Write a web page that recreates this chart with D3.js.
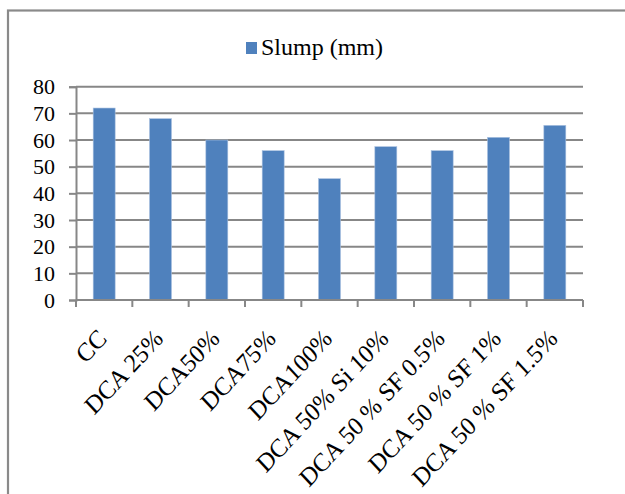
<!DOCTYPE html>
<html>
<head>
<meta charset="utf-8">
<script src="https://cdn.jsdelivr.net/npm/d3@7"></script>
<style>
  html, body { margin: 0; padding: 0; background: #fff; }
  svg { display: block; }
  text { font-family: "Liberation Serif", "Times New Roman", serif; fill: #000; }
</style>
</head>
<body>
<svg id="chart" width="625" height="494"></svg>
<script>
const categories = ["CC", "DCA 25%", "DCA50%", "DCA75%", "DCA100%", "DCA 50% Si 10%", "DCA 50 % SF 0.5%", "DCA 50 % SF 1%", "DCA 50 % SF 1.5%"];
const slump = [72, 68, 60, 56, 45.5, 57.5, 56, 61, 65.5];
const seriesName = "Slump (mm)";
const yTicks = [0, 10, 20, 30, 40, 50, 60, 70, 80];

const svg = d3.select("#chart");
const pLeft = 76, pRight = 583, pTop = 86.7, pBottom = 300;
const gridColor = "#878787";
const barColor = "#4F81BD";

// outer frame
svg.append("rect")
  .attr("x", 8).attr("y", 10.5)
  .attr("width", 700).attr("height", 600)
  .attr("fill", "none").attr("stroke", "#8a8a8a").attr("stroke-width", 2.2);

const x = d3.scaleBand().domain(categories).range([pLeft, pRight])
  .paddingInner(0.61).paddingOuter(0.305);
const y = d3.scaleLinear().domain([0, 80]).range([pBottom, pTop]);

// gridlines + y axis
const yAxis = d3.axisLeft(y).tickValues(yTicks).tickSize(7).tickPadding(14).tickFormat(d3.format("d"));
const gy = svg.append("g").attr("transform", `translate(${pLeft},0)`).call(yAxis);
gy.select(".domain").attr("stroke", gridColor).attr("stroke-width", 2);
gy.selectAll(".tick line").attr("stroke", gridColor).attr("stroke-width", 2);
gy.selectAll(".tick text").attr("font-size", 22).attr("font-family", "Liberation Serif").attr("fill", "#000");

svg.append("g").selectAll("line").data(yTicks.filter(d => d > 0)).join("line")
  .attr("x1", pLeft).attr("x2", pRight)
  .attr("y1", d => y(d)).attr("y2", d => y(d))
  .attr("stroke", gridColor).attr("stroke-width", 2);

// bars
svg.append("g").selectAll("rect").data(categories).join("rect")
  .attr("x", (d) => x(d))
  .attr("width", x.bandwidth())
  .attr("y", (d, i) => y(slump[i]))
  .attr("height", (d, i) => y(0) - y(slump[i]))
  .attr("fill", barColor)
  .attr("stroke", "#a9c0e0").attr("stroke-width", 0.6);

// x axis
const step = x.step();
const boundaries = d3.range(categories.length + 1).map(i => pLeft + i * step);
svg.append("line").attr("x1", pLeft).attr("x2", pRight).attr("y1", pBottom).attr("y2", pBottom)
  .attr("stroke", gridColor).attr("stroke-width", 2);
svg.append("g").selectAll("line").data(boundaries).join("line")
  .attr("x1", d => d).attr("x2", d => d).attr("y1", pBottom).attr("y2", pBottom + 7)
  .attr("stroke", gridColor).attr("stroke-width", 2);

svg.append("g").selectAll("text").data(categories).join("text")
  .attr("transform", d => `translate(${x(d) + x.bandwidth() / 2 + 4},${pBottom + 40}) scale(1,1.08) rotate(-45)`)
  .attr("text-anchor", "end")
  .attr("font-family", "Liberation Serif")
  .attr("font-size", 24)
  .text(d => d);

// legend
const lg = svg.append("g");
lg.append("rect").attr("x", 246).attr("y", 42).attr("width", 11).attr("height", 12).attr("fill", barColor);
lg.append("text").attr("x", 261).attr("y", 55).attr("font-family", "Liberation Serif").attr("font-size", 24).text(seriesName);
</script>
</body>
</html>
